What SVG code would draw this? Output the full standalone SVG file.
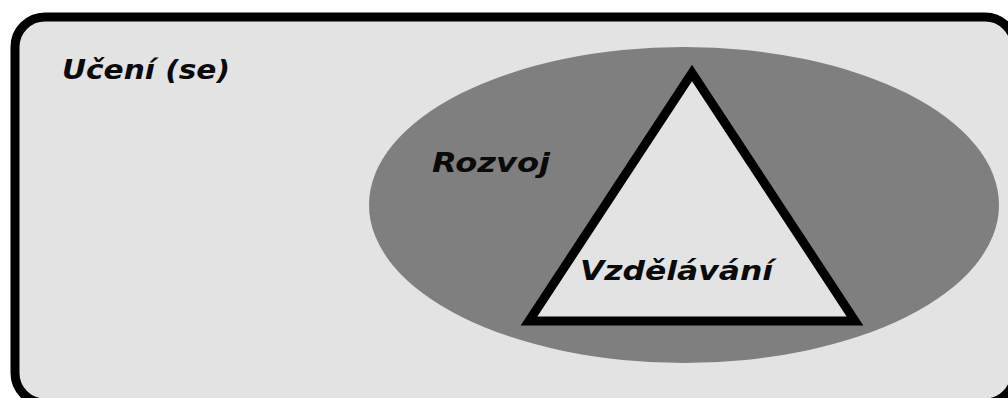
<svg xmlns="http://www.w3.org/2000/svg" width="1008" height="398" viewBox="0 0 1008 398">
<style>
.lbl{font-family:"DejaVu Sans",Verdana,sans-serif;font-weight:bold;font-style:italic;font-size:26px;fill:#0a0a0a}
</style>
<rect width="1008" height="398" fill="#ffffff"/>
<g id="uceni">
<rect x="15" y="17" width="1000" height="386" rx="30" ry="30" fill="#e3e3e3" stroke="#000" stroke-width="9"/>
<text class="lbl" x="62" y="79" textLength="168" lengthAdjust="spacingAndGlyphs">Učení (se)</text>
</g>
<g id="rozvoj">
<ellipse cx="684" cy="205" rx="315" ry="158" fill="#7f7f7f"/>
<text class="lbl" x="432" y="172" textLength="118" lengthAdjust="spacingAndGlyphs">Rozvoj</text>
</g>
<g id="vzdelavani">
<polygon points="692,73 529,321 855,321" fill="#e3e3e3" stroke="#000" stroke-width="9" stroke-linejoin="miter"/>
<text class="lbl" x="580" y="280" textLength="193" lengthAdjust="spacingAndGlyphs">Vzdělávání</text>
</g>
<g id="connectors"/>
</svg>
